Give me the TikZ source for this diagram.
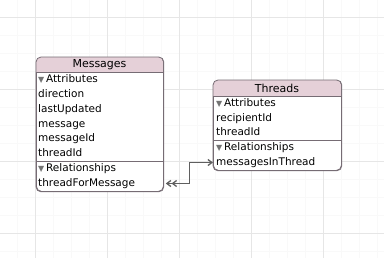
\documentclass[tikz,border=0pt]{standalone}
\usepackage{fontspec}
\setmainfont{DejaVu Sans}
\usetikzlibrary{positioning}
\usetikzlibrary{calc}
\usetikzlibrary{arrows.meta}

\definecolor{headpink}{RGB}{229,208,216}
\definecolor{boxline}{RGB}{118,108,116}
\definecolor{gridmajor}{RGB}{230,230,230}
\definecolor{gridminor}{RGB}{249,249,249}
\definecolor{relline}{RGB}{95,95,95}

\tikzset{
    entity/.style={draw=boxline, fill=white, rounded corners=5pt, line width=0.8pt, anchor=north west, inner sep=0pt},
    title/.style={font=\fontsize{11}{12}\selectfont, inner sep=0pt},
    row/.style={font=\fontsize{10.5}{12}\selectfont, anchor=west, inner sep=0pt, text height=7.5pt, text depth=2pt},
    group/.style={row},
    rel/.style={draw=relline, line width=1.3pt},
}
\newcommand{\fold}{{\color{gray!90!black}\fontsize{8}{8}\selectfont▼}\,}

\begin{document}
\begin{tikzpicture}[x=1pt,y=-1pt]
    \useasboundingbox (0,0) rectangle (384,258);
    \fill[white] (0,0) rectangle (384,258);

    % grid
    \foreach \gx in {17,35,...,384} \draw[gridminor, line width=0.5pt] (\gx,0) -- (\gx,258);
    \foreach \gy in {-1,17,...,258} \draw[gridminor, line width=0.5pt] (0,\gy) -- (384,\gy);
    \foreach \gx in {35,107,...,384} \draw[gridmajor, line width=0.7pt] (\gx,0) -- (\gx,258);
    \foreach \gy in {17,89,...,258} \draw[gridmajor, line width=0.7pt] (0,\gy) -- (384,\gy);

    % Messages
    \node[entity, minimum width=127pt, minimum height=134pt] (msg) at (36,57) {};
    \fill[headpink] (36,72) [rounded corners=5pt] -- (36,57) -- (163,57) [sharp corners] -- (163,72) -- cycle;
    \draw[boxline, line width=0.8pt, rounded corners=5pt] (msg.south west) rectangle (msg.north east);
    \draw[boxline, line width=0.8pt] (36,72) -- (163,72);
    \draw[boxline, line width=0.8pt] (36,161) -- (163,161);
    \node[title] (msgtitle) at (99.5,64.5) {Messages};
    \node[group] (msgattr) at (38,80) {\fold Attributes};
    \node[row] (direction) at (38,94.5) {direction};
    \node[row] (lastupdated) at (38,109.5) {lastUpdated};
    \node[row] (message) at (38,124.5) {message};
    \node[row] (messageid) at (38,139) {messageId};
    \node[row] (msgthreadid) at (38,154) {threadId};
    \node[group] (msgrel) at (38,169) {\fold Relationships};
    \node[row] (tfm) at (38,183.5) {threadForMessage};

    % Threads
    \node[entity, minimum width=128pt, minimum height=90pt] (thr) at (213,80) {};
    \fill[headpink] (213,96) [rounded corners=5pt] -- (213,80) -- (341,80) [sharp corners] -- (341,96) -- cycle;
    \draw[boxline, line width=0.8pt, rounded corners=5pt] (thr.south west) rectangle (thr.north east);
    \draw[boxline, line width=0.8pt] (213,96) -- (341,96);
    \draw[boxline, line width=0.8pt] (213,140) -- (341,140);
    \node[title] (thrtitle) at (277,88) {Threads};
    \node[group] (thrattr) at (216,104) {\fold Attributes};
    \node[row] (recipientid) at (216,118.5) {recipientId};
    \node[row] (thrthreadid) at (216,133) {threadId};
    \node[group] (thrrel) at (216,148) {\fold Relationships};
    \node[row] (mit) at (216,162.5) {messagesInThread};

    % relationship
    \coordinate (tfm-end) at ([xshift=2pt]msg.east |- tfm);
    \coordinate (mit-end) at (thr.west |- mit);
    \draw[rel, {Straight Barb[length=4pt,width=6pt] Straight Barb[length=4pt,width=6pt]}-{Straight Barb[length=4pt,width=6pt]}]
        (tfm-end) -| ($(tfm-end)!0.5!(mit-end)$) |- (mit-end);
\end{tikzpicture}
\end{document}
